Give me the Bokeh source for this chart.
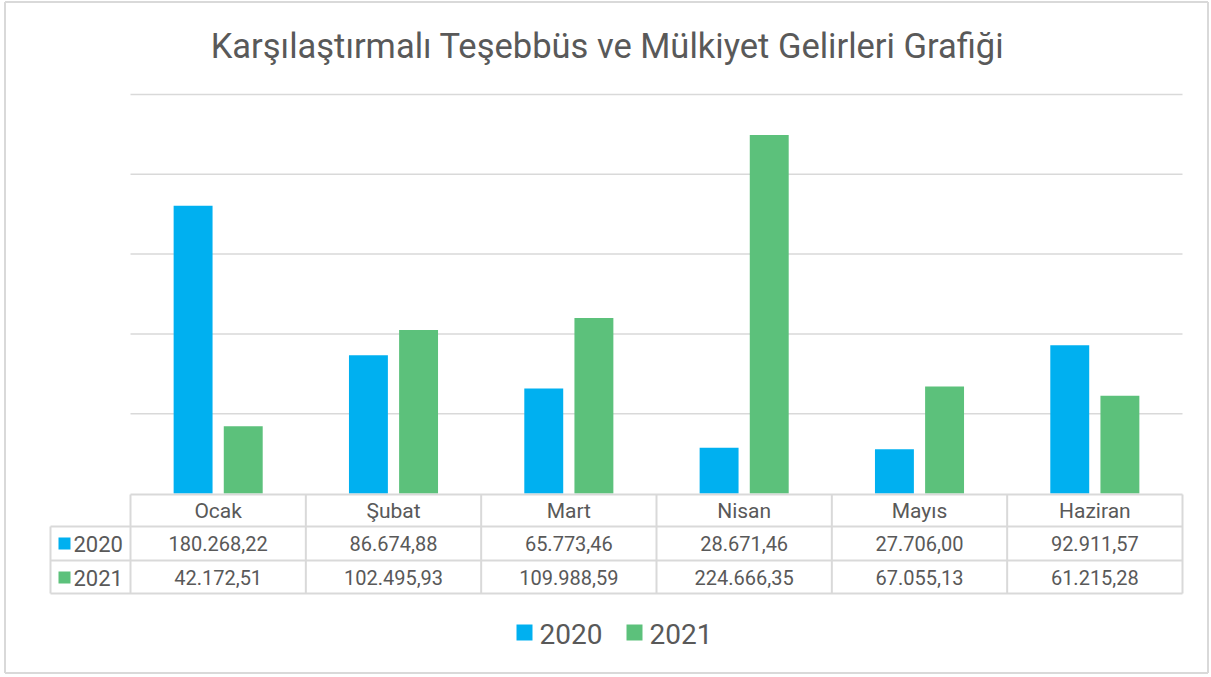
from bokeh.plotting import figure
from bokeh.models import Range1d
from bokeh.core.properties import value
from bokeh.embed import file_html
from bokeh.resources import INLINE

# ---- data ----
months = ["Ocak", "Şubat", "Mart", "Nisan", "Mayıs", "Haziran"]
series_names = ["2020", "2021"]
v2020 = [180268.22, 86674.88, 65773.46, 28671.46, 27706.00, 92911.57]
v2021 = [42172.51, 102495.93, 109988.59, 224666.35, 67055.13, 61215.28]
grid_values = [50000, 100000, 150000, 200000, 250000]
title_text = "Karşılaştırmalı Teşebbüs ve Mülkiyet Gelirleri Grafiği"

BLUE = "#00B0F0"
GREEN = "#5CC17B"
TXT = "#595959"
LINE = "#D9D9D9"
FONT = "Roboto"

W, H = 1210, 676
# layout helpers: reference pixel position -> data coordinate
X0, COLW = 130.0, 175.333
Y0, UNIT = 493.0, 250000.0 / 399.0
def PX(px):
    return (px - X0) / COLW
def PY(py):
    return (Y0 - py) * UNIT

def tr(v):
    s = f"{v:,.2f}"
    return s.replace(",", "X").replace(".", ",").replace("X", ".")

p = figure(width=W, height=H, output_backend="svg", toolbar_location=None,
           x_range=Range1d(PX(0), PX(W)), y_range=Range1d(PY(H), PY(0)),
           min_border=0, min_border_left=0, min_border_right=0,
           min_border_top=0, min_border_bottom=0)
p.xaxis.visible = False
p.yaxis.visible = False
p.xgrid.visible = False
p.ygrid.visible = False
p.outline_line_color = None
p.background_fill_color = "white"
p.border_fill_color = "white"

n = len(months)
idx = list(range(n))

# chart area border
bx0, bx1, by0, by1 = PX(4.5), PX(1207.5), PY(1.5), PY(672.5)
p.segment(x0=[bx0, bx0, bx0, bx1], x1=[bx1, bx1, bx0, bx1],
          y0=[by0, by1, by0, by0], y1=[by0, by1, by1, by1],
          line_color=LINE, line_width=2)

# gridlines
p.segment(x0=[0] * len(grid_values), x1=[n] * len(grid_values), y0=grid_values, y1=grid_values,
          line_color=LINE, line_width=1.5)

# bars
off = 0.143
bw = 0.222
p.vbar(x=[i + 0.5 - off for i in idx], top=v2020, bottom=0, width=bw, fill_color=BLUE, line_color=None)
p.vbar(x=[i + 0.5 + off for i in idx], top=v2021, bottom=0, width=bw, fill_color=GREEN, line_color=None)

# data table lines
hy = [PY(494), PY(526), PY(560), PY(593)]
hx0 = [0, PX(50), PX(50), PX(50)]
p.segment(x0=hx0, x1=[n] * 4, y0=hy, y1=hy, line_color=LINE, line_width=2)
p.segment(x0=[PX(50)] + idx + [n], x1=[PX(50)] + idx + [n],
          y0=[PY(526)] + [PY(494)] * (n + 1), y1=[PY(593)] * (n + 2),
          line_color=LINE, line_width=2)

cx = [i + 0.5 for i in idx]
p.text(x=cx, y=[PY(510)] * n, text=months, text_align="center", text_baseline="middle",
       text_font=value(FONT), text_font_size="21px", text_color=TXT)
p.text(x=cx, y=[PY(543)] * n, text=[tr(v) for v in v2020], text_align="center", text_baseline="middle",
       text_font=value(FONT), text_font_size="20px", text_color=TXT)
p.text(x=cx, y=[PY(577)] * n, text=[tr(v) for v in v2021], text_align="center", text_baseline="middle",
       text_font=value(FONT), text_font_size="20px", text_color=TXT)

# row headers
p.scatter(x=[PX(64), PX(64)], y=[PY(543), PY(577)], marker="square", size=12,
          fill_color=[BLUE, GREEN], line_color=None)
p.text(x=[PX(73), PX(73)], y=[PY(543), PY(577)], text=series_names, text_align="left",
       text_baseline="middle", text_font=value(FONT), text_font_size="22px", text_color=TXT)

# legend
p.scatter(x=[PX(524), PX(634)], y=[PY(632), PY(632)], marker="square", size=16,
          fill_color=[BLUE, GREEN], line_color=None)
p.text(x=[PX(539), PX(649)], y=[PY(633), PY(633)], text=series_names, text_align="left",
       text_baseline="middle", text_font=value(FONT), text_font_size="28px", text_color=TXT)

# title
p.text(x=[PX(607)], y=[PY(45)], text=[title_text], text_align="center", text_baseline="middle",
       text_font=value(FONT), text_font_size="34.5px", text_color=TXT)

open("out.html", "w").write(file_html(p, INLINE))
